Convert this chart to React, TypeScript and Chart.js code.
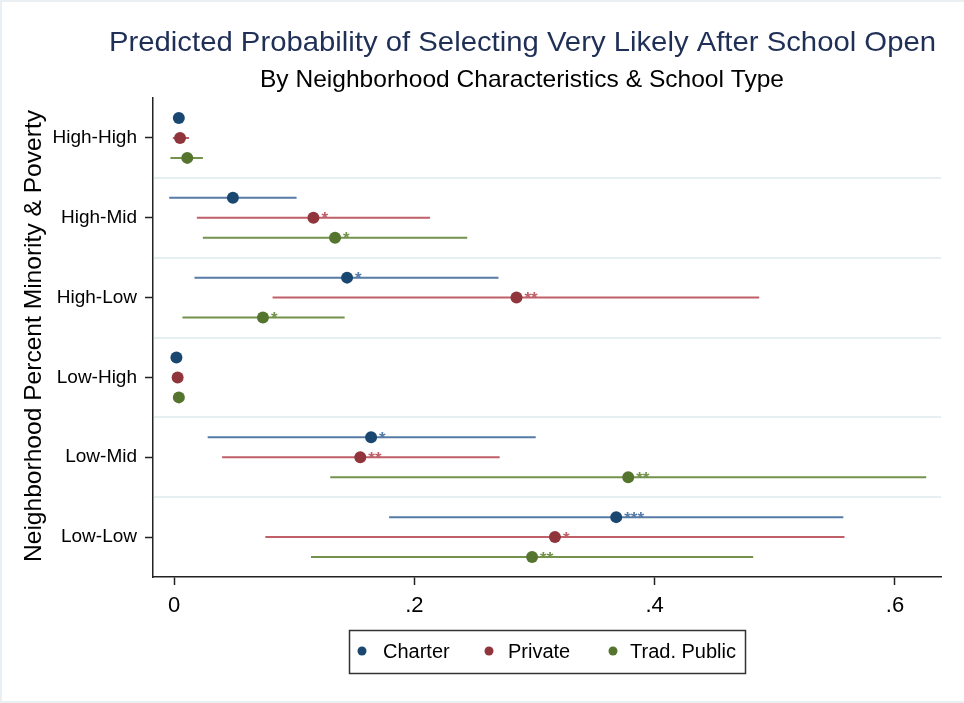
import React, { useEffect, useRef } from "react";
import { Chart, registerables } from "chart.js";

Chart.register(...registerables);

const FONT = "'Liberation Sans', Arial, sans-serif";

const categories = ["High-High", "High-Mid", "High-Low", "Low-High", "Low-Mid", "Low-Low"];
const seriesNames = ["Charter", "Private", "Trad. Public"];

const charterEst = [0.004, 0.049, 0.144, 0.002, 0.164, 0.368];
const charterLo = [0.003, -0.004, 0.017, 0.001, 0.028, 0.179];
const charterHi = [0.005, 0.102, 0.270, 0.003, 0.301, 0.557];
const charterStars = ["", "", "*", "", "*", "***"];

const privateEst = [0.005, 0.116, 0.285, 0.003, 0.155, 0.317];
const privateLo = [-0.001, 0.019, 0.082, 0.002, 0.040, 0.076];
const privateHi = [0.0125, 0.213, 0.487, 0.004, 0.271, 0.558];
const privateStars = ["", "*", "**", "", "**", "*"];

const tradEst = [0.011, 0.134, 0.074, 0.004, 0.378, 0.298];
const tradLo = [-0.003, 0.024, 0.007, 0.003, 0.130, 0.114];
const tradHi = [0.024, 0.244, 0.142, 0.005, 0.626, 0.482];
const tradStars = ["", "*", "*", "", "**", "**"];

const xTicks = [0, 0.2, 0.4, 0.6];

const pointColors = ["#1a476f", "#90353b", "#55752f"];
const lineColors = ["#557ba6", "#bf6069", "#73924c"];
const rowOffsets = [-0.25, 0, 0.25];

const estimates = [charterEst, privateEst, tradEst];
const lows = [charterLo, privateLo, tradLo];
const highs = [charterHi, privateHi, tradHi];
const stars = [charterStars, privateStars, tradStars];

const titleText = "Predicted Probability of Selecting Very Likely After School Open";
const subtitleText = "By Neighborhood Characteristics & School Type";
const yTitle = "Neighborhood Percent Minority & Poverty";

const fmtX = (v: number) => (v === 0 ? "0" : v.toFixed(1).replace(/^0/, ""));

function drawFitText(ctx: CanvasRenderingContext2D, text: string, cx: number, y: number, targetWidth: number) {
  const w = ctx.measureText(text).width;
  const sx = targetWidth / w;
  ctx.save();
  ctx.translate(cx, y);
  ctx.scale(sx, 1);
  ctx.textAlign = "center";
  ctx.fillText(text, 0, 0);
  ctx.restore();
}

export default function App() {
  const ref = useRef<HTMLCanvasElement | null>(null);

  useEffect(() => {
    if (!ref.current) return;

    const pointDatasets = seriesNames.map((name, s) => ({
      type: "scatter" as const,
      label: name,
      data: estimates[s].map((v, i) => ({ x: v, y: i + 1 + rowOffsets[s] })),
      backgroundColor: pointColors[s],
      borderColor: pointColors[s],
      borderWidth: 0,
      pointRadius: 6,
      showLine: false,
      order: 0,
    }));

    const ciDatasets = seriesNames.map((name, s) => {
      const data: { x: number; y: number | null }[] = [];
      lows[s].forEach((lo, i) => {
        const y = i + 1 + rowOffsets[s];
        data.push({ x: lo, y });
        data.push({ x: highs[s][i], y });
        data.push({ x: highs[s][i], y: null });
      });
      return {
        type: "scatter" as const,
        label: name + " CI",
        data,
        borderColor: lineColors[s],
        backgroundColor: lineColors[s],
        borderWidth: 2,
        pointRadius: 0,
        showLine: true,
        spanGaps: false,
        order: 1,
      };
    });

    const decorations = {
      id: "decorations",
      beforeDraw(chart: any) {
        const { ctx, width, height } = chart;
        ctx.save();
        ctx.fillStyle = "#ffffff";
        ctx.fillRect(0, 0, width, height);
        ctx.fillStyle = "#e9eff3";
        ctx.fillRect(0, 0, width, 2);
        ctx.fillRect(0, 0, 2, height);
        ctx.fillRect(0, height - 2, width, 2);
        ctx.restore();
      },
      beforeDatasetsDraw(chart: any) {
        const { ctx, chartArea, scales } = chart;
        ctx.save();
        ctx.strokeStyle = "#e6eff2";
        ctx.lineWidth = 2;
        for (let k = 1; k < categories.length; k++) {
          const y = Math.round(scales.y.getPixelForValue(k + 0.5));
          ctx.beginPath();
          ctx.moveTo(chartArea.left + 1, y);
          ctx.lineTo(chartArea.right, y);
          ctx.stroke();
        }
        ctx.restore();
      },
      afterDatasetsDraw(chart: any) {
        const { ctx } = chart;
        ctx.save();
        ctx.font = `bold 17px ${FONT}`;
        ctx.textAlign = "left";
        ctx.textBaseline = "middle";
        for (let s = 0; s < seriesNames.length; s++) {
          const meta = chart.getDatasetMeta(s);
          ctx.fillStyle = lineColors[s];
          stars[s].forEach((st, i) => {
            if (!st) return;
            const el = meta.data[i];
            ctx.fillText(st, el.x + 8, el.y + 2);
          });
        }
        ctx.restore();
      },
      afterDraw(chart: any) {
        const { ctx } = chart;
        ctx.save();
        ctx.textBaseline = "alphabetic";
        // titles
        ctx.fillStyle = "#1f2f56";
        ctx.font = `28px ${FONT}`;
        drawFitText(ctx, titleText, 522.5, 51, 827);
        ctx.fillStyle = "#000000";
        ctx.font = `24px ${FONT}`;
        drawFitText(ctx, subtitleText, 522, 87, 524);
        // y axis title (rotated)
        ctx.save();
        ctx.translate(41, 336);
        ctx.rotate(-Math.PI / 2);
        ctx.font = `24px ${FONT}`;
        drawFitText(ctx, yTitle, 0, 0, 452);
        ctx.restore();
        // legend
        ctx.strokeStyle = "#333333";
        ctx.lineWidth = 1.5;
        ctx.strokeRect(349.5, 630.5, 396, 43);
        const dotX = [362, 489, 613];
        const textX = [383, 508, 630];
        ctx.font = `20px ${FONT}`;
        ctx.textAlign = "left";
        ctx.textBaseline = "middle";
        seriesNames.forEach((name, s) => {
          ctx.fillStyle = pointColors[s];
          ctx.beginPath();
          ctx.arc(dotX[s], 651, 4.5, 0, Math.PI * 2);
          ctx.fill();
          ctx.fillStyle = "#000000";
          ctx.fillText(name, textX[s], 652);
        });
        ctx.restore();
      },
    };

    const chart = new Chart(ref.current, {
      type: "scatter",
      data: { datasets: [...pointDatasets, ...ciDatasets] as any },
      options: {
        responsive: false,
        animation: false,
        events: [],
        layout: { padding: { left: 0, top: 98, right: 23, bottom: 0 } },
        plugins: {
          legend: { display: false },
          title: { display: false },
          tooltip: { enabled: false },
        },
        scales: {
          x: {
            type: "linear",
            min: -0.0175,
            max: 0.6383,
            afterBuildTicks: (s: any) => {
              s.ticks = xTicks.map((v) => ({ value: v }));
            },
            afterFit: (s: any) => {
              s.height = 126;
            },
            ticks: {
              callback: (v: any) => fmtX(Number(v)),
              font: { family: FONT, size: 22 },
              color: "#000000",
              padding: 8,
              autoSkip: false,
              maxRotation: 0,
            },
            grid: {
              drawOnChartArea: false,
              drawTicks: true,
              tickLength: 8,
              tickColor: "#222222",
              tickWidth: 1.5,
            },
            border: { display: true, color: "#222222", width: 1.5 },
          },
          y: {
            type: "linear",
            reverse: true,
            min: 0.5,
            max: 6.5,
            afterBuildTicks: (s: any) => {
              s.ticks = categories.map((_, i) => ({ value: i + 1 }));
            },
            afterFit: (s: any) => {
              s.width = 153;
            },
            ticks: {
              callback: (v: any) => categories[Math.round(Number(v)) - 1] ?? "",
              font: { family: FONT, size: 19 },
              color: "#000000",
              padding: 8,
              autoSkip: false,
            },
            grid: {
              drawOnChartArea: false,
              drawTicks: true,
              tickLength: 8,
              tickColor: "#222222",
              tickWidth: 1.5,
            },
            border: { display: true, color: "#222222", width: 1.5 },
            title: { display: false },
          },
        },
      },
      plugins: [decorations],
    });

    return () => chart.destroy();
  }, []);

  return (
    <div style={{ position: "absolute", left: 0, top: 0, width: 964, height: 703, background: "#ffffff" }}>
      <canvas
        ref={ref}
        width={964}
        height={703}
        role="img"
        aria-label={`${titleText}. ${subtitleText}. ${yTitle}`}
        style={{ display: "block", width: 964, height: 703 }}
      />
    </div>
  );
}
